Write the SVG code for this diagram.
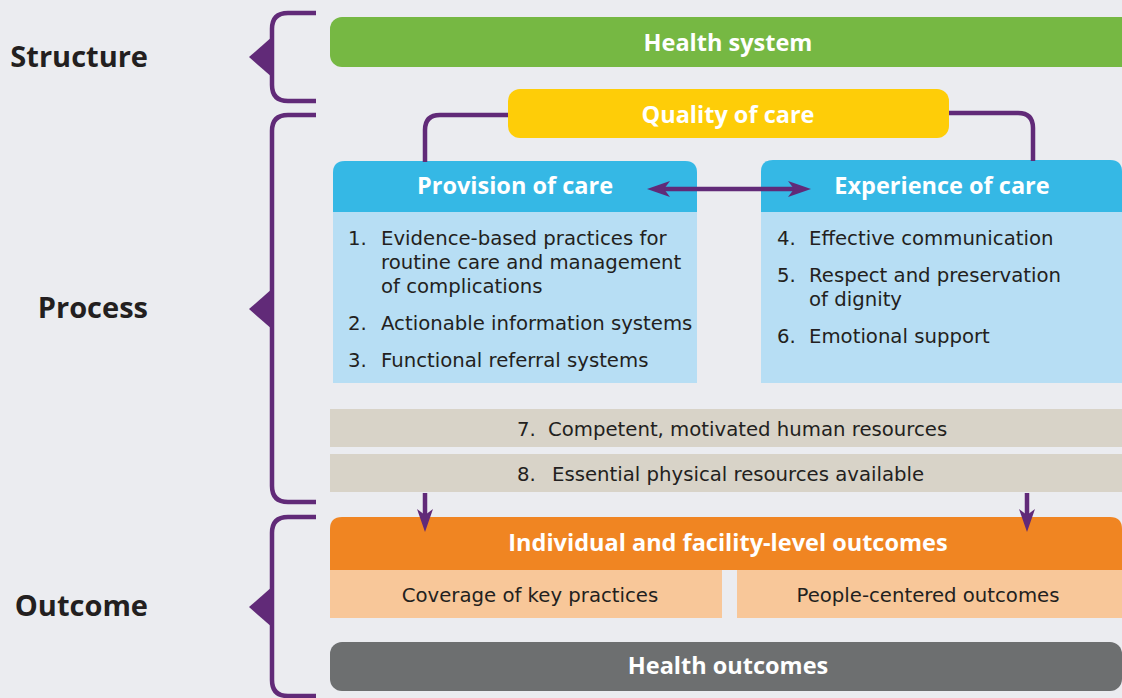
<svg xmlns="http://www.w3.org/2000/svg" width="1122" height="698" viewBox="0 0 1122 698">
  <style>
    .bg { fill: #ebecf0; }
    .brk { fill: none; stroke: #612a78; stroke-width: 4.5; }
    .tri { fill: #612a78; }
    .con { fill: none; stroke: #612a78; stroke-width: 4.5; }
    .side { font-family: "Open Sans", "Liberation Sans", sans-serif; font-weight: 700; font-size: 29px; fill: #231f20; text-anchor: end; }
    .hdr { font-family: "Open Sans", "Liberation Sans", sans-serif; font-weight: 700; font-size: 23.5px; fill: #ffffff; text-anchor: middle; }
    .body { font-family: "DejaVu Sans", "Liberation Sans", sans-serif; font-size: 19.7px; fill: #231f20; }
    .mid { text-anchor: middle; }
  </style>
  <defs>
    <marker id="ah" viewBox="0 0 23 16" markerWidth="23" markerHeight="16" refX="8" refY="8" orient="auto-start-reverse" markerUnits="userSpaceOnUse">
      <path d="M0,0 L23,8 L0,16 L6,8 Z" fill="#612a78"/>
    </marker>
  </defs>
  <rect class="bg" x="0" y="0" width="1122" height="698"/>

  <g id="brackets">
    <g id="structure-bracket">
      <path class="brk" d="M316,13 H288 Q272,13 272,29 V85 Q272,101 288,101 H316"/>
      <polygon class="tri" points="249,57 273,36 273,78"/>
    </g>
    <g id="process-bracket">
      <path class="brk" d="M316,115 H288 Q272,115 272,131 V486 Q272,502 288,502 H316"/>
      <polygon class="tri" points="249,309 273,288 273,330"/>
    </g>
    <g id="outcome-bracket">
      <path class="brk" d="M316,517 H288 Q272,517 272,533 V680 Q272,696 288,696 H316"/>
      <polygon class="tri" points="249,607 273,586 273,628"/>
    </g>
  </g>

  <g id="labels">
    <text class="side" x="148" y="67">Structure</text>
    <text class="side" x="148" y="318">Process</text>
    <text class="side" x="148" y="616">Outcome</text>
  </g>

  <g id="health-system">
    <rect x="330" y="17" width="805" height="50" rx="12" fill="#76b843"/>
    <text class="hdr" x="728" y="51">Health system</text>
  </g>

  <g id="quality-of-care">
    <rect x="508" y="89" width="441" height="49" rx="12" fill="#fecd08"/>
    <text class="hdr" x="728" y="123">Quality of care</text>
  </g>

  <g id="provision-of-care">
    <path d="M333,383 V173 Q333,161 345,161 H685 Q697,161 697,173 V383 Z" fill="#b7def4"/>
    <path d="M333,212 V173 Q333,161 345,161 H685 Q697,161 697,173 V212 Z" fill="#35b8e5"/>
    <text class="hdr" x="515" y="194">Provision of care</text>
    <text class="body"><tspan x="348" y="245">1.</tspan><tspan x="381" y="245">Evidence-based practices for</tspan><tspan x="381" y="269">routine care and management</tspan><tspan x="381" y="293">of complications</tspan></text>
    <text class="body"><tspan x="348" y="330">2.</tspan><tspan x="381" y="330">Actionable information systems</tspan></text>
    <text class="body"><tspan x="348" y="367">3.</tspan><tspan x="381" y="367">Functional referral systems</tspan></text>
  </g>

  <g id="experience-of-care">
    <path d="M761,383 V172 Q761,160 773,160 H1110 Q1122,160 1122,172 V383 Z" fill="#b7def4"/>
    <path d="M761,212 V172 Q761,160 773,160 H1110 Q1122,160 1122,172 V212 Z" fill="#35b8e5"/>
    <text class="hdr" x="942" y="194">Experience of care</text>
    <text class="body"><tspan x="777" y="245">4.</tspan><tspan x="809" y="245">Effective communication</tspan></text>
    <text class="body"><tspan x="777" y="282">5.</tspan><tspan x="809" y="282">Respect and preservation</tspan><tspan x="809" y="306">of dignity</tspan></text>
    <text class="body"><tspan x="777" y="343">6.</tspan><tspan x="809" y="343">Emotional support</tspan></text>
  </g>

  <g id="human-resources">
    <rect x="330" y="409" width="792" height="38" fill="#d8d3c8"/>
    <text class="body"><tspan x="517" y="436">7.</tspan><tspan x="548" y="436">Competent, motivated human resources</tspan></text>
  </g>

  <g id="physical-resources">
    <rect x="330" y="454" width="792" height="38" fill="#d8d3c8"/>
    <text class="body"><tspan x="517" y="481">8.</tspan><tspan x="552" y="481">Essential physical resources available</tspan></text>
  </g>

  <g id="individual-outcomes">
    <path d="M330,570 V529 Q330,517 342,517 H1110 Q1122,517 1122,529 V570 Z" fill="#f08522"/>
    <text class="hdr" x="728" y="551">Individual and facility-level outcomes</text>
  </g>

  <g id="coverage">
    <rect x="330" y="570" width="392" height="48" fill="#f8c799"/>
    <text class="body mid" x="530" y="602">Coverage of key practices</text>
  </g>

  <g id="people-centered">
    <rect x="737" y="570" width="385" height="48" fill="#f8c799"/>
    <text class="body mid" x="928" y="602">People-centered outcomes</text>
  </g>

  <g id="health-outcomes">
    <rect x="330" y="642" width="792" height="49" rx="12" fill="#6d6f70"/>
    <text class="hdr" x="728" y="674">Health outcomes</text>
  </g>

  <g id="connectors">
    <path class="con" d="M508,115 H440 Q425,115 425,130 V162"/>
    <path class="con" d="M949,113 H1018 Q1033,113 1033,128 V161"/>
    <path class="con" d="M662,189 H796" marker-start="url(#ah)" marker-end="url(#ah)"/>
    <path class="con" d="M425,493 V517" marker-end="url(#ah)"/>
    <path class="con" d="M1027,493 V517" marker-end="url(#ah)"/>
  </g>
</svg>
